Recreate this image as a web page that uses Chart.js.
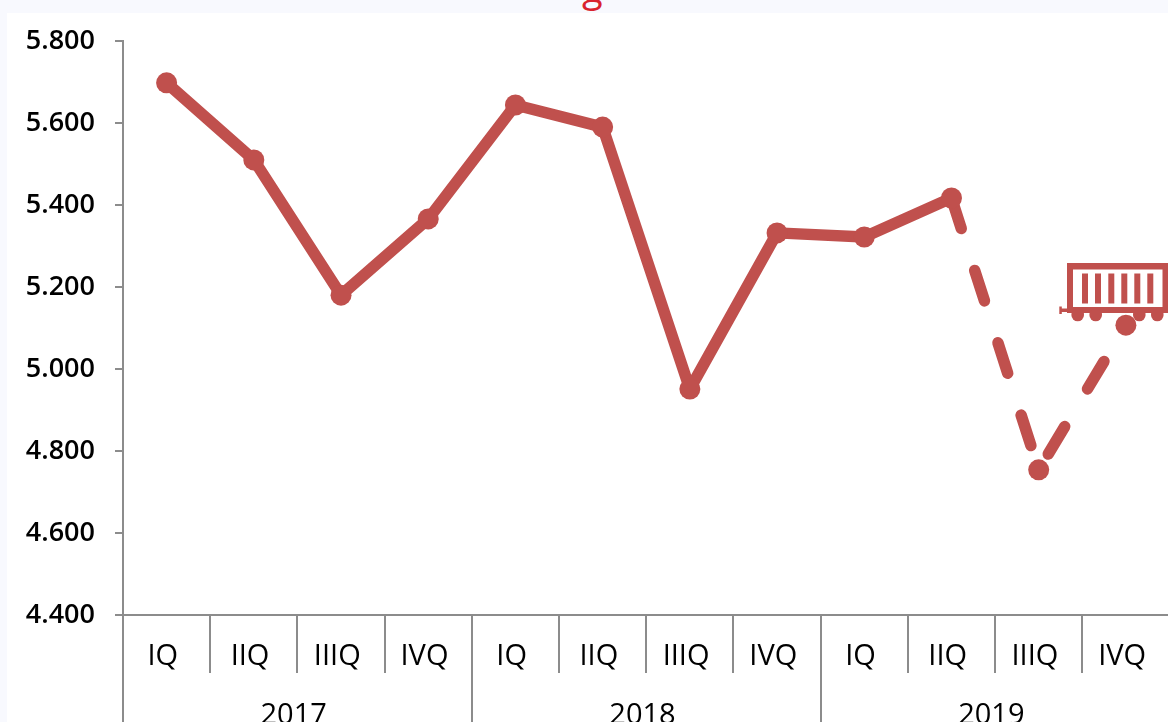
<!DOCTYPE html>
<html>
<head>
<meta charset="utf-8">
<title>Quarterly chart</title>
<script src="https://cdn.jsdelivr.net/npm/chart.js@4"></script>
<style>
  html, body { margin: 0; padding: 0; width: 1168px; height: 722px; overflow: hidden; background: #f8f9fe; }
  #panel { position: absolute; left: 7px; top: 13px; right: 0; bottom: 0; background: #fff; }
  #chart { position: absolute; left: 0; top: 0; }
  #wagon { position: absolute; left: 1050px; top: 255px; }
  #clipped { position: absolute; left: 582px; top: -39px; font: 38px "Open Sans"; color: #d9232e; }
</style>
</head>
<body>
<div id="panel"></div>
<span id="clipped">g</span>
<canvas id="chart" width="1180" height="722"></canvas>
<svg id="wagon" width="118" height="80" viewBox="1050 255 118 80" fill="#c0504d">
  <path fill-rule="evenodd" d="M1067 263H1168V313H1067ZM1073 269.5V307H1162.5V269.5Z"/>
  <rect x="1082" y="273.5" width="6" height="30"/>
  <rect x="1095" y="273.5" width="6" height="30"/>
  <rect x="1108.3" y="273.5" width="6" height="30"/>
  <rect x="1121.3" y="273.5" width="6" height="30"/>
  <rect x="1134.3" y="273.5" width="6" height="30"/>
  <rect x="1147.3" y="273.5" width="6" height="30"/>
  <circle cx="1077.7" cy="315" r="6.3"/>
  <circle cx="1095.7" cy="315" r="6.3"/>
  <circle cx="1139.3" cy="315" r="6.3"/>
  <circle cx="1157.3" cy="315" r="6.3"/>
  <rect x="1060" y="308.5" width="8" height="3.5"/>
  <rect x="1059.3" y="306.5" width="2.5" height="7.5"/>
</svg>
<script>
const quarters = ['IQ', 'IIQ', 'IIIQ', 'IVQ', 'IQ', 'IIQ', 'IIIQ', 'IVQ', 'IQ', 'IIQ', 'IIIQ', 'IVQ'];
const years = ['2017', '2018', '2019'];
const values = [5698, 5510, 5180, 5366, 5644, 5590, 4951, 5332, 5322, 5417, 4754, 5107];
// the line goes dashed from this point on (forecast part)
const dashedFrom = 9;

const red = '#c0504d';
const gray = '#8c8c8c';

new Chart(document.getElementById('chart'), {
  type: 'line',
  data: {
    labels: quarters,
    datasets: [{
      data: values,
      borderColor: red,
      backgroundColor: red,
      borderWidth: 11.5,
      borderCapStyle: 'round',
      borderJoinStyle: 'round',
      pointRadius: 10.5,
      pointBackgroundColor: red,
      pointBorderWidth: 0,
      tension: 0,
      segment: {
        borderDash: ctx => ctx.p0DataIndex >= dashedFrom ? [32, 44] : undefined
      }
    }]
  },
  options: {
    responsive: false,
    animation: false,
    layout: { padding: { top: 41, left: 0, right: 0, bottom: 0 } },
    plugins: { legend: { display: false }, tooltip: { enabled: false } },
    scales: {
      x: {
        type: 'category',
        position: 'bottom',
        offset: true,
        afterFit: s => { s.height = 58; s.paddingLeft = 0; s.paddingRight = 0; },
        border: { color: gray, width: 2 },
        grid: { offset: true, drawOnChartArea: false, color: gray, lineWidth: 2, tickLength: 58 },
        ticks: {
          autoSkip: false, maxRotation: 0, padding: -34, color: '#000',
          font: { family: 'Open Sans', size: 29 },
          // trailing space: the labels sit a little left of the band centre
          callback: (v, i) => quarters[i] + '\u00a0'
        }
      },
      x2: {
        type: 'category',
        position: 'bottom',
        labels: years,
        offset: true,
        afterFit: s => { s.height = 49; s.paddingLeft = 0; s.paddingRight = 0; },
        border: { display: false },
        grid: { offset: true, drawOnChartArea: false, color: gray, lineWidth: 2, tickLength: 49 },
        ticks: {
          autoSkip: false, maxRotation: 0, padding: -24, color: '#000',
          font: { family: 'Open Sans', size: 29 },
          callback: (v, i) => years[i] + '\u00a0'
        }
      },
      y: {
        min: 4400,
        max: 5800,
        afterFit: s => { s.width = 123; s.paddingTop = 0; s.paddingBottom = 0; },
        border: { color: gray, width: 2 },
        grid: { drawOnChartArea: false, color: gray, lineWidth: 2, tickLength: 8 },
        ticks: {
          stepSize: 200, padding: 20, color: '#000',
          font: { family: 'Open Sans', size: 27, weight: '600' },
          callback: v => (v / 1000).toFixed(3)
        }
      }
    }
  }
});
</script>
</body>
</html>
